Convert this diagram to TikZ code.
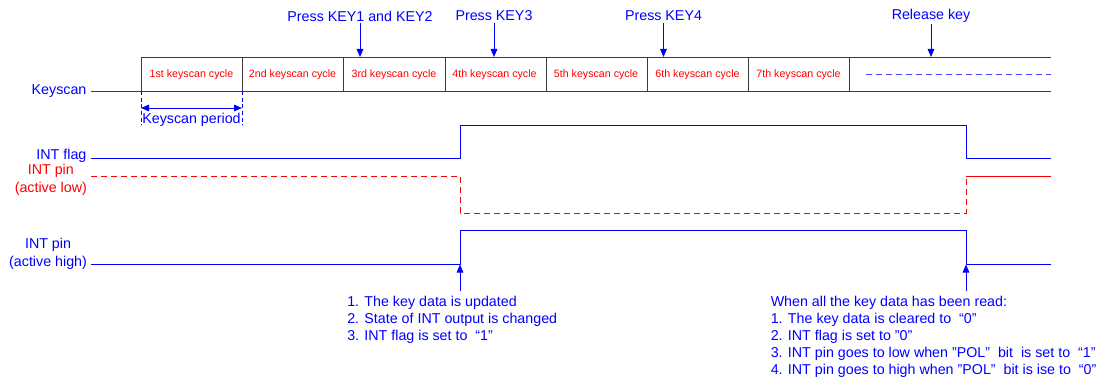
\documentclass[tikz,border=0pt]{standalone}
\usepackage{fontspec}
\setmainfont{Liberation Sans}
\usetikzlibrary{arrows.meta}
\definecolor{sigblue}{RGB}{0,0,255}
\definecolor{sigred}{RGB}{255,0,0}
\definecolor{gridgray}{RGB}{60,60,60}

\begin{document}
\begin{tikzpicture}[x=0.75pt,y=-0.75pt,
  lbl/.style={font=\fontsize{10.7}{13.2}\selectfont, text=sigblue, inner sep=1pt},
  redlbl/.style={lbl, text=sigred},
  cyc/.style={font=\fontsize{8}{9}\selectfont, text=sigred, inner sep=0pt},
  tip/.style={-{Triangle[length=6pt,width=5pt]}, draw=sigblue, line width=0.7pt},
  wave/.style={line width=0.7pt, line join=miter},
  grid/.style={draw=gridgray, line width=0.7pt},
  dsh/.style={dash pattern=on 4.5pt off 3pt},
]
\useasboundingbox (0,0) rectangle (1102,381);

% ---------- keyscan row ----------
\foreach \i/\x in {0/141,1/242,2/343,3/445,4/546,5/647,6/748,7/849}{
  \coordinate (b\i) at (\x,57);
  \coordinate (d\i) at (\x,91);
}
\coordinate (bend) at (1051,57);
\coordinate (dend) at (1051,91);
\node[lbl, anchor=east] (ks) at (88,91) {Keyscan};
\coordinate (ks0) at (91,91);
\draw[grid] (ks0) -- (dend);
\draw[grid] (b0) -- (bend);
\foreach \i in {0,...,7} \draw[grid] (b\i) -- (d\i);

\node[cyc] (c1) at (191.5,74.5) {1st keyscan cycle};
\node[cyc] (c2) at (292.5,74.5) {2nd keyscan cycle};
\node[cyc] (c3) at (394,74.5) {3rd keyscan cycle};
\node[cyc] (c4) at (494.5,74.5) {4th keyscan cycle};
\node[cyc] (c5) at (596,74.5) {5th keyscan cycle};
\node[cyc] (c6) at (697.5,74.5) {6th keyscan cycle};
\node[cyc] (c7) at (798.5,74.5) {7th keyscan cycle};
\coordinate (ds0) at (866,74.5);
\coordinate (ds1) at (1051,74.5);
\draw[sigblue!75, line width=0.7pt, dsh] (ds0) -- (ds1);

% keyscan period
\coordinate (kp0) at (141,125);
\coordinate (kp1) at (242,125);
\coordinate (ka0) at (141,108);
\coordinate (ka1) at (242,108);
\draw[sigblue, line width=0.6pt, dash pattern=on 3pt off 2pt] (d0) -- (kp0);
\draw[sigblue, line width=0.6pt, dash pattern=on 3pt off 2pt] (d1) -- (kp1);
\draw[tip, {Triangle[length=6pt,width=5pt]}-{Triangle[length=6pt,width=5pt]}] (ka0) -- (ka1);
\node[lbl] (kpl) at (191.5,119.5) {Keyscan period};

% key events
\node[lbl] (p1) at (360,16) {Press KEY1 and KEY2};
\node[lbl] (p3) at (494,16) {Press KEY3};
\node[lbl] (p4) at (663.5,16) {Press KEY4};
\node[lbl] (rk) at (931,16) {Release key};
\coordinate (k1) at (360,57);
\coordinate (k3) at (494,57);
\coordinate (k4) at (663.5,57);
\coordinate (kr) at (931,57);
\draw[tip] (p1.south) -- (k1);
\draw[tip] (p3.south) -- (k3);
\draw[tip] (p4.south) -- (k4);
\draw[tip] (rk.south) -- (kr);

% ---------- signals ----------
\node[lbl, anchor=east] (flag) at (88,155.5) {INT flag};
\draw[wave, draw=sigblue] (91,158) -- (460,158) -- (460,125) -- (966,125) -- (966,158) -- (1051,158);

\node[redlbl, anchor=east, align=center] (pinlow) at (88.5,180) {INT pin\\(active low)};
\draw[wave, draw=sigred, dsh] (91,176) -- (460,176) -- (460,213) -- (966,213) -- (966,176);
\draw[wave, draw=sigred] (966,176) -- (1051,176);

\node[lbl, anchor=east, align=center] (pinhigh) at (88.5,254) {INT pin\\(active high)};
\draw[wave, draw=sigblue] (91,264) -- (460,264) -- (460,230) -- (966,230) -- (966,264) -- (1051,264);

% ---------- notes ----------
\coordinate (u1) at (460,291);
\coordinate (e1) at (460,264.5);
\coordinate (u2) at (966,291);
\coordinate (e2) at (966,264.5);
\draw[tip] (u1) -- (e1);
\draw[tip] (u2) -- (e2);

\node[lbl, anchor=north west, align=left, inner sep=0pt, font=\fontsize{10.7}{12.9}\selectfont] (n1) at (347,295.5)
  {1. The key data is updated\\
   2. State of INT output is changed\\
   3. INT flag is set to \ “1”};

\node[lbl, anchor=north west, align=left, inner sep=0pt, font=\fontsize{10.7}{12.8}\selectfont] (n2) at (770.5,295.5)
  {When all the key data has been read:\\
   1. The key data is cleared to \ “0”\\
   2. INT flag is set to "0"\\
   3. INT pin goes to low when "POL” \ bit \ is set to \ “1”\\
   4. INT pin goes to high when "POL” \ bit is ise to \ “0”};
\end{tikzpicture}
\end{document}
